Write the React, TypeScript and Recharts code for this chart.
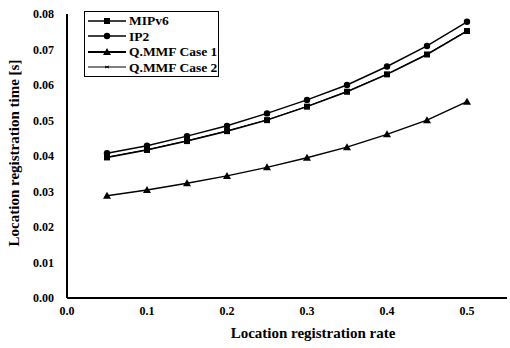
import React from "react"
import { LineChart, Line, XAxis, YAxis } from "recharts"

const rates = [0.05, 0.1, 0.15, 0.2, 0.25, 0.3, 0.35, 0.4, 0.45, 0.5]
const mipv6 = [0.0396, 0.0417, 0.0442, 0.047, 0.0501, 0.0539, 0.0581, 0.063, 0.0686, 0.0752]
const ip2 = [0.0408, 0.0429, 0.0456, 0.0485, 0.052, 0.0558, 0.06, 0.0652, 0.071, 0.0778]
const qmmf1 = [0.0288, 0.0304, 0.0323, 0.0344, 0.0368, 0.0395, 0.0425, 0.0461, 0.0501, 0.0553]
const qmmf2 = [0.0397, 0.0418, 0.0443, 0.0471, 0.0502, 0.054, 0.0582, 0.0631, 0.0687, 0.0753]
const xTicks = [0, 0.1, 0.2, 0.3, 0.4, 0.5]
const yTicks = [0, 0.01, 0.02, 0.03, 0.04, 0.05, 0.06, 0.07, 0.08]

const data = rates.map((r, i) => ({
  rate: r,
  mipv6: mipv6[i],
  ip2: ip2[i],
  qmmf1: qmmf1[i],
  qmmf2: qmmf2[i],
}))

const font = "Liberation Serif, Times New Roman, serif"

const Square = ({ cx, cy }: any) => <rect x={cx - 3} y={cy - 3} width={6} height={6} fill="#000" />
const Circle = ({ cx, cy }: any) => <circle cx={cx} cy={cy} r={3.2} fill="#000" />
const Tri = ({ cx, cy }: any) => (
  <polygon points={`${cx},${cy - 4} ${cx - 4},${cy + 3} ${cx + 4},${cy + 3}`} fill="#000" />
)
const Star = ({ cx, cy }: any) => (
  <g stroke="#000" strokeWidth={1}>
    <line x1={cx - 2} y1={cy - 1} x2={cx + 2} y2={cy + 1} />
    <line x1={cx - 2} y1={cy + 1} x2={cx + 2} y2={cy - 1} />
  </g>
)

const legendItems = [
  { name: "MIPv6", Marker: Square, width: 1.5 },
  { name: "IP2", Marker: Circle, width: 1.5 },
  { name: "Q.MMF Case 1", Marker: Tri, width: 2 },
  { name: "Q.MMF Case 2", Marker: Star, width: 1 },
]

const LegendBox = () => (
  <div
    style={{
      position: "absolute",
      left: 84,
      top: 11,
      border: "1px solid #000",
      padding: "1px 1px 1px 2px",
      background: "#fff",
      fontWeight: "bold",
      fontSize: 13.5,
    }}
  >
    {legendItems.map(({ name, Marker, width }) => (
      <div key={name} style={{ display: "flex", alignItems: "center", height: 15.5 }}>
        <svg width={40} height={12}>
          <line x1={1} y1={6} x2={39} y2={6} stroke="#000" strokeWidth={width} />
          <Marker cx={20} cy={6} />
        </svg>
        <span style={{ marginLeft: 2, lineHeight: "15px" }}>{name}</span>
      </div>
    ))}
  </div>
)

export default function App() {
  const tickStyle = { fontWeight: "bold" as const, fontSize: 12, fill: "#000" }
  return (
    <div style={{ position: "absolute", left: 0, top: 0, width: 510, height: 348, background: "#fff", fontFamily: font }}>
      <LineChart width={510} height={348} data={data} margin={{ top: 14, right: 3, left: 0, bottom: 0 }}>
        <XAxis
          dataKey="rate"
          type="number"
          domain={[0, 0.55]}
          ticks={xTicks}
          tickFormatter={(v) => v.toFixed(1)}
          tickLine={false}
          tickSize={7}
          tickMargin={1}
          height={50}
          axisLine={{ stroke: "#000", strokeWidth: 2 }}
          tick={tickStyle}
          label={{
            value: "Location registration rate",
            position: "insideBottom",
            offset: 10,
            dx: 26,
            style: { fontWeight: "bold", fontSize: 15, fill: "#000" },
          }}
        />
        <YAxis
          type="number"
          domain={[0, 0.08]}
          ticks={yTicks}
          tickFormatter={(v) => v.toFixed(2)}
          tickLine={false}
          tickSize={11}
          tickMargin={2}
          width={67}
          axisLine={{ stroke: "#000", strokeWidth: 2 }}
          tick={tickStyle}
          label={{
            value: "Location registration time [s]",
            angle: -90,
            position: "insideLeft",
            offset: 14,
            dy: -3,
            style: { textAnchor: "middle", fontWeight: "bold", fontSize: 15, fill: "#000" },
          }}
        />
        <Line dataKey="qmmf2" name="Q.MMF Case 2" stroke="#000" strokeWidth={1} dot={<Star />} isAnimationActive={false} />
        <Line dataKey="mipv6" name="MIPv6" stroke="#000" strokeWidth={1.5} dot={<Square />} isAnimationActive={false} />
        <Line dataKey="ip2" name="IP2" stroke="#000" strokeWidth={1.5} dot={<Circle />} isAnimationActive={false} />
        <Line dataKey="qmmf1" name="Q.MMF Case 1" stroke="#000" strokeWidth={1.5} dot={<Tri />} isAnimationActive={false} />
      </LineChart>
      <LegendBox />
    </div>
  )
}
